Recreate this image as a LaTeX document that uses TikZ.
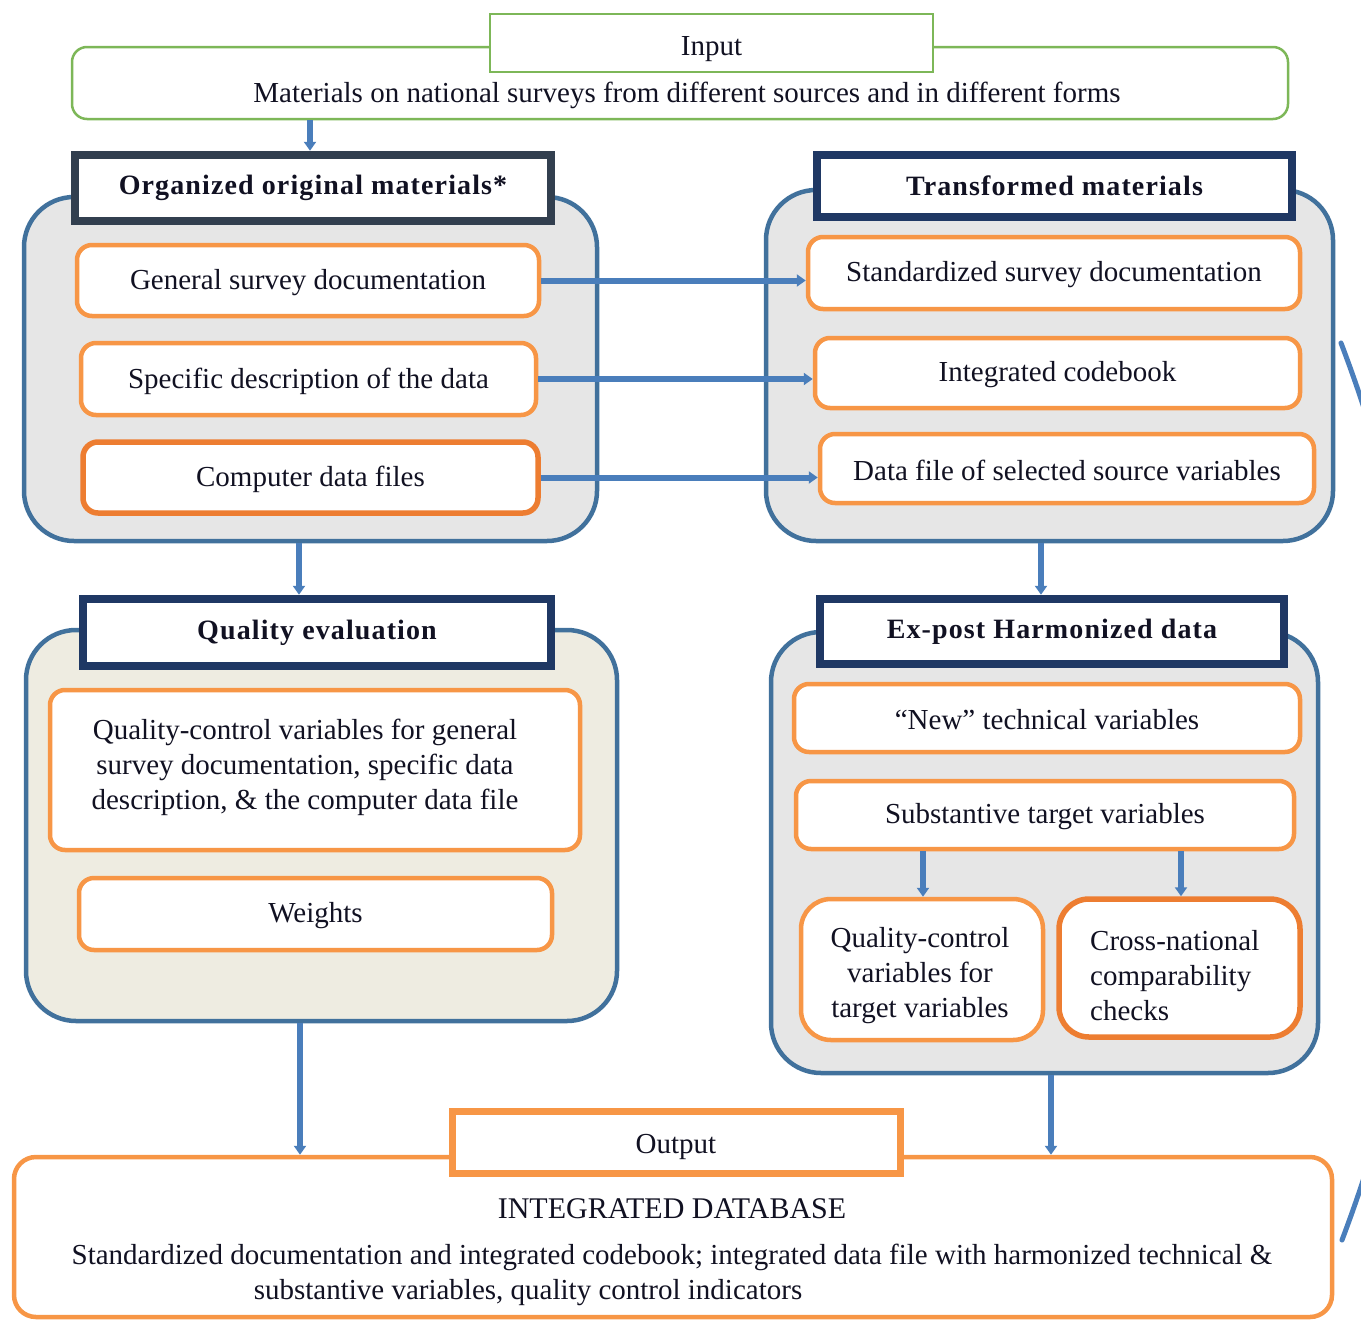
\documentclass[tikz,border=0pt]{standalone}
\usepackage{fontspec}
\setmainfont{Liberation Serif}
\newfontfamily\dgheadfam[LetterSpace=4]{Liberation Serif}
\usetikzlibrary{arrows.meta,calc}
\definecolor{cgreen}{HTML}{7DB758}
\definecolor{corange}{HTML}{F79646}
\definecolor{corangedk}{HTML}{ED7D31}
\definecolor{cnavy}{HTML}{1F3864}
\definecolor{cslate}{HTML}{323F4F}
\definecolor{cblue}{HTML}{41719C}
\definecolor{carrow}{HTML}{4A7EBB}
\definecolor{cgrey}{HTML}{E6E6E6}
\definecolor{cbeige}{HTML}{EEECE1}
\definecolor{ctext}{HTML}{111122}
\newcommand\dgbody{\fontsize{29}{35}\selectfont}
\newcommand\dghead{\dgheadfam\bfseries\fontsize{28}{34}\selectfont}
\begin{document}
\begin{tikzpicture}[x=1pt,y=-1pt,
  txt/.style={font=\dgbody,text=ctext,inner sep=0pt,align=center,yshift=-2pt},
  obox/.style={draw=corange,line width=4.5pt,rounded corners=15pt,fill=white,inner sep=0pt},
  oboxd/.style={obox,draw=corangedk,line width=5.5pt},
  hbox/.style={draw=cnavy,line width=8.5pt,fill=white,inner sep=0pt,font=\dghead,text=ctext},
  cont/.style={draw=cblue,line width=4.5pt,rounded corners=50pt,fill=cgrey,inner sep=0pt},
  arr/.style={draw=carrow,line width=6pt,-{Triangle[length=9pt,width=12pt]}},
  gbox/.style={draw=cgreen,line width=2.5pt,fill=white,inner sep=0pt}
]
\useasboundingbox (0,0) rectangle (1361,1320);

% Input
\node[gbox,rounded corners=15pt,minimum width=1216pt,minimum height=72pt] (inbig) at (680,83) {};
\node[gbox,minimum width=443pt,minimum height=58pt] (inhdr) at (711.5,43) {};
\node[txt] at (711.5,47) {Input};
\node[txt] (intxt) at (687,93) {Materials on national surveys from different sources and in different forms};

% Containers
\node[cont,minimum width=573pt,minimum height=344pt] (lc1) at (310.5,369) {};
\node[cont,minimum width=567pt,minimum height=351pt] (rc1) at (1049.5,365.5) {};
\node[cont,fill=cbeige,minimum width=591pt,minimum height=391pt] (lc2) at (321.5,825.5) {};
\node[cont,minimum width=547pt,minimum height=441pt] (rc2) at (1044.5,852.5) {};

% Headers
\node[hbox,draw=cslate,minimum width=476pt,minimum height=66pt] (orghdr) at (313,188) {Organized original materials*};
\node[hbox,minimum width=475pt,minimum height=62pt] (trhdr) at (1054.5,186) {Transformed materials};
\node[hbox,minimum width=468pt,minimum height=67pt] (qehdr) at (317,632.5) {Quality evaluation};
\node[hbox,minimum width=464pt,minimum height=65pt] (exhdr) at (1052,631.5) {Ex-post Harmonized data};

% Left upper boxes
\node[obox,minimum width=462pt,minimum height=71pt] (gsd) at (308,280.5) {};
\node[txt] at (gsd) {General survey documentation};
\node[obox,minimum width=455pt,minimum height=72pt] (sdd) at (308.5,379) {};
\node[txt] at (sdd) {Specific description of the data};
\node[oboxd,minimum width=455pt,minimum height=71pt] (cdf) at (310.5,477.5) {};
\node[txt] at (cdf) {Computer data files};

% Right upper boxes
\node[obox,minimum width=492pt,minimum height=72pt] (ssd) at (1054,273) {};
\node[txt] at (ssd) {Standardized survey documentation};
\node[obox,minimum width=485pt,minimum height=70pt] (icb) at (1057.5,373) {};
\node[txt] at (icb) {Integrated codebook};
\node[obox,minimum width=494pt,minimum height=69pt] (dfs) at (1067,468.5) {};
\node[txt] at (dfs) {Data file of selected source variables};

% Left lower boxes
\node[obox,minimum width=530pt,minimum height=160pt] (qcv) at (315,770) {};
\node[txt] at (305,765) {Quality-control variables for general\\survey documentation, specific data\\description, \& the computer data file};
\node[obox,minimum width=473pt,minimum height=72pt] (wts) at (315.5,914) {};
\node[txt] at (wts) {Weights};

% Right lower boxes
\node[obox,minimum width=506pt,minimum height=68pt] (ntv) at (1047,718) {};
\node[txt] at (ntv) {“New” technical variables};
\node[obox,minimum width=498pt,minimum height=68pt] (stv) at (1045,815) {};
\node[txt] at (stv) {Substantive target variables};
\node[obox,rounded corners=30pt,minimum width=242pt,minimum height=141pt] (qct) at (922,969.5) {};
\node[txt] at (920,974) {Quality-control\\variables for\\target variables};
\node[oboxd,rounded corners=30pt,minimum width=241pt,minimum height=138pt] (cnc) at (1179.5,968) {};
\node[txt,anchor=west,align=left] at (1090,974) {Cross-national\\comparability\\checks};

% Output
\node[obox,draw=corange,line width=4.5pt,rounded corners=22pt,minimum width=1318pt,minimum height=160pt] (outbig) at (673,1237) {};
\node[obox,rounded corners=0pt,line width=7pt,minimum width=448pt,minimum height=62pt] (outhdr) at (676,1142) {};
\node[txt] at (676,1145) {Output};
\node[txt,font=\fontsize{30}{36}\selectfont] (idb) at (672,1207) {INTEGRATED DATABASE};
\node[txt] (ol2) at (672,1255) {Standardized documentation and integrated codebook; integrated data file with harmonized technical \&};
\node[txt] (ol3) at (528,1291) {substantive variables, quality control indicators};

% Arrows
\draw[arr] (inbig.south -| 310,0) -- (orghdr.north -| 310,0);
\draw[arr] (gsd.east) -- (gsd.east -| ssd.west);
\draw[arr] (sdd.east) -- (sdd.east -| icb.west);
\draw[arr] (cdf.east) -- (cdf.east -| dfs.west);
\draw[arr] (lc1.south -| 299,0) -- (qehdr.north -| 299,0);
\draw[arr] (rc1.south -| 1041,0) -- (exhdr.north -| 1041,0);
\draw[arr] (stv.south -| 923,0) -- (qct.north -| 923,0);
\draw[arr] (stv.south -| 1181,0) -- (cnc.north -| 1181,0);
\draw[arr] (lc2.south -| 300,0) -- (outbig.north -| 300,0);
\draw[arr] (rc2.south -| 1051,0) -- (outbig.north -| 1051,0);

% Right bracket
\coordinate (brtop) at (1341,343);
\coordinate (brbot) at (1342,1240);
\draw[carrow,line width=5pt,line cap=round] (brtop) .. controls (1455,642) and (1455,942) .. (brbot);
\end{tikzpicture}
\end{document}
